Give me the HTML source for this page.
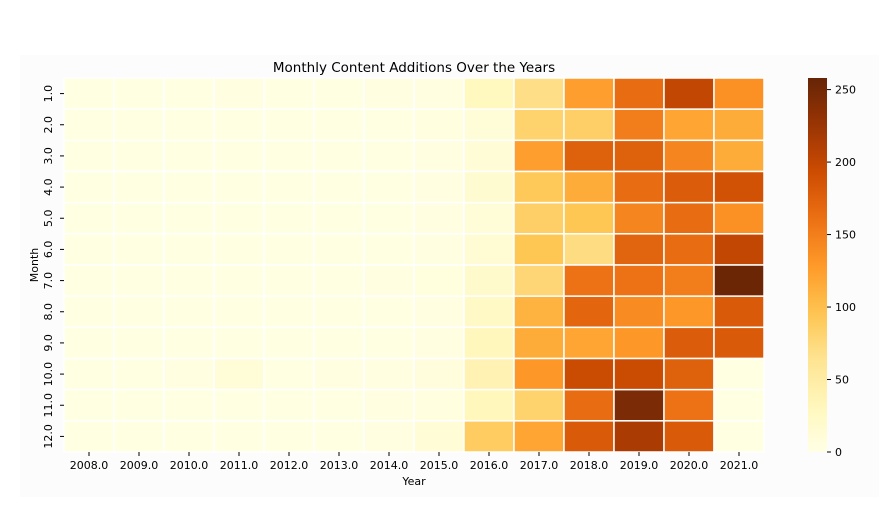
<!DOCTYPE html>
<html><head><meta charset="utf-8"><style>
body{margin:0;background:#fff;font-family:"Liberation Sans","DejaVu Sans",sans-serif;}
svg text{font-family:"DejaVu Sans","Liberation Sans",sans-serif;fill:#000;}
</style></head><body>
<svg id="chart" width="879" height="527">
<rect x="20" y="55" width="859" height="442" fill="#fcfcfc"/>
<text x="414" y="72" font-size="13.5" text-anchor="middle">Monthly Content Additions Over the Years</text>
<g id="cells"></g><g id="xt"></g><g id="yt"></g><g id="cb"></g>
<text x="414" y="485" font-size="11" text-anchor="middle">Year</text>
<text x="38" y="265" font-size="11" text-anchor="middle" transform="rotate(-90 38 265)">Month</text>
</svg>
<script>
const years=["2008.0","2009.0","2010.0","2011.0","2012.0","2013.0","2014.0","2015.0","2016.0","2017.0","2018.0","2019.0","2020.0","2021.0"];
const months=["1.0","2.0","3.0","4.0","5.0","6.0","7.0","8.0","9.0","10.0","11.0","12.0"];
// values[yearIndex][monthIndex]
const y2008=[2,2,2,2,2,2,2,2,2,2,2,2];
const y2009=[2,2,2,2,2,2,2,2,2,2,2,2];
const y2010=[2,2,2,2,2,2,2,2,2,3,2,2];
const y2011=[3,2,2,2,2,2,2,2,2,10,2,2];
const y2012=[2,2,2,2,2,2,2,2,2,2,2,2];
const y2013=[2,2,2,2,2,2,2,2,2,3,2,2];
const y2014=[3,2,2,2,2,2,3,2,2,4,3,3];
const y2015=[3,5,3,3,3,3,6,3,4,7,5,12];
const y2016=[30,10,12,16,10,15,20,25,32,40,32,88];
const y2017=[70,82,125,92,85,95,78,110,115,130,82,120];
const y2018=[125,85,175,115,95,72,160,170,120,195,165,180];
const y2019=[165,150,175,165,145,172,160,140,130,195,245,215];
const y2020=[200,120,145,178,165,165,150,130,178,175,160,180];
const y2021=[135,115,115,188,135,200,255,180,180,2,2,2];
const values=[y2008,y2009,y2010,y2011,y2012,y2013,y2014,y2015,y2016,y2017,y2018,y2019,y2020,y2021];
const cbTicks=[0,50,100,150,200,250];
const vmax=258;
const L=64,T=78,W=700,H=374;
const cw=W/years.length,ch=H/months.length;
const xs=i=>L+i*cw, ys=j=>T+j*ch;
const stops=["#ffffe5","#fff7bc","#fee391","#fec44f","#fe9929","#ec7014","#cc4c02","#993404","#662506"];
function hex(h){return [1,3,5].map(i=>parseInt(h.substr(i,2),16));}
function color(v){let t=Math.max(0,Math.min(1,v/vmax))*8;let i=Math.min(7,Math.floor(t));let f=t-i;let a=hex(stops[i]),b=hex(stops[i+1]);return "rgb("+a.map((c,k)=>Math.round(c+(b[k]-c)*f)).join(",")+")";}
const NS="http://www.w3.org/2000/svg";
function mk(tag,attrs,parent){const e=document.createElementNS(NS,tag);for(const k in attrs)e.setAttribute(k,attrs[k]);parent.appendChild(e);return e;}
const cells=document.getElementById("cells");
values.forEach((col,i)=>col.forEach((v,j)=>{
 const r=mk("rect",{x:xs(i),y:ys(j),width:cw,height:ch,fill:color(v),stroke:"#fff","stroke-width":1.5},cells);
 
 
}));
const xt=document.getElementById("xt");
years.forEach((y,i)=>{
 const cx=xs(i)+cw/2;
 mk("line",{x1:cx,x2:cx,y1:T+H,y2:T+H+4,stroke:"#000"},xt);
 const t=mk("text",{x:cx,y:T+H+17,"font-size":11,"text-anchor":"middle"},xt);t.textContent=y;
 
 
});
const yt=document.getElementById("yt");
months.forEach((m,j)=>{
 const cy=ys(j)+ch/2;
 mk("line",{x1:L-4,x2:L,y1:cy,y2:cy,stroke:"#000"},yt);
 const t=mk("text",{x:L-12,y:cy,"font-size":11,"text-anchor":"middle",transform:"rotate(-90 "+(L-12)+" "+cy+")"},yt);
 t.textContent=m;
 
 
});
const cb=document.getElementById("cb");
const CX=808,CW=19;
const defs=mk("defs",{},cb);const g=mk("linearGradient",{id:"cbg",x1:0,y1:1,x2:0,y2:0},defs);
for(let k=0;k<=20;k++)mk("stop",{offset:k/20,"stop-color":color(vmax*k/20)},g);
const bar=mk("rect",{x:CX,y:T,width:CW,height:H,fill:"url(#cbg)"},cb);


cbTicks.forEach(v=>{
 const yy=T+H-v/vmax*H;
 mk("line",{x1:CX+CW,x2:CX+CW+4,y1:yy,y2:yy,stroke:"#000"},cb);
 const t=mk("text",{x:CX+CW+8,y:yy+4,"font-size":11},cb);t.textContent=v;
 
 
});
</script>
</body></html>
